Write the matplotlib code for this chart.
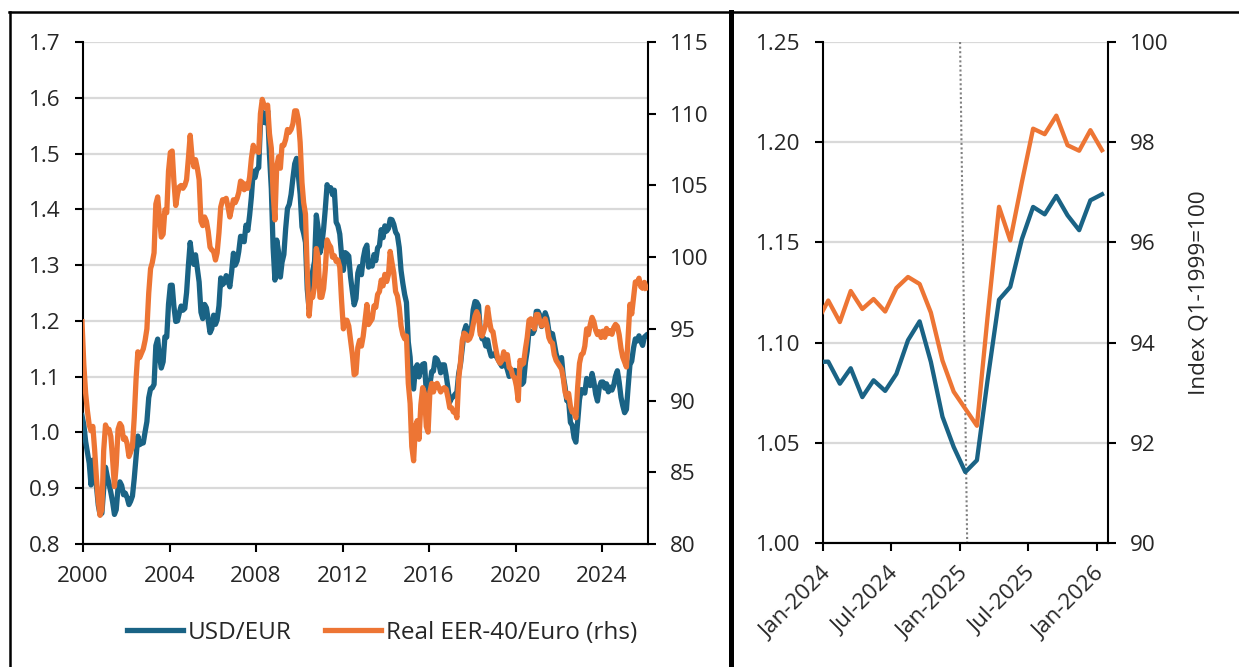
import matplotlib
matplotlib.use("Agg")
import matplotlib.pyplot as plt
import matplotlib.dates as mdates
import matplotlib.ticker as mticker
import matplotlib.transforms as mtransforms
from matplotlib.lines import Line2D
import pandas as pd

plt.rcParams['font.family'] = ['Open Sans', 'DejaVu Sans']

# ---------------- data (monthly averages, Dec-1999 .. Jan-2026) ----------------
first_month = "1999-12"

usd_eur = [
    1.030,
    1.0137, 0.9834, 0.9643, 0.9449, 0.9059, 0.9505, 0.9386, 0.9045, 0.8695, 0.8525, 0.8552, 0.8983,  # 2000
    0.9376, 0.9205, 0.9083, 0.8925, 0.8753, 0.8530, 0.8615, 0.9014, 0.9114, 0.9050, 0.8883, 0.8912,  # 2001
    0.8832, 0.8707, 0.8766, 0.8860, 0.9170, 0.9561, 0.9935, 0.9781, 0.9806, 0.9812, 1.0013, 1.0194,  # 2002
    1.0622, 1.0785, 1.0797, 1.0862, 1.1556, 1.1674, 1.1365, 1.1155, 1.1267, 1.1714, 1.1710, 1.2298,  # 2003
    1.2638, 1.2640, 1.2261, 1.1989, 1.2000, 1.2146, 1.2266, 1.2191, 1.2224, 1.2507, 1.2997, 1.3406,  # 2004
    1.3123, 1.3013, 1.3185, 1.2943, 1.2697, 1.2155, 1.2041, 1.2295, 1.2234, 1.2022, 1.1789, 1.1861,  # 2005
    1.2103, 1.1938, 1.2020, 1.2271, 1.2770, 1.2650, 1.2684, 1.2811, 1.2727, 1.2611, 1.2881, 1.3213,  # 2006
    1.2999, 1.3074, 1.3242, 1.3516, 1.3511, 1.3419, 1.3716, 1.3622, 1.3896, 1.4227, 1.4684, 1.4570,  # 2007
    1.4718, 1.4748, 1.5527, 1.5751, 1.5557, 1.5553, 1.5770, 1.4975, 1.4370, 1.3322, 1.2732, 1.3449,  # 2008
    1.3239, 1.2785, 1.3050, 1.3190, 1.3650, 1.4016, 1.4088, 1.4268, 1.4562, 1.4816, 1.4914, 1.4614,  # 2009
    1.4272, 1.3686, 1.3569, 1.3406, 1.2565, 1.2209, 1.2770, 1.2894, 1.3067, 1.3898, 1.3661, 1.3220,  # 2010
    1.3360, 1.3649, 1.3999, 1.4442, 1.4349, 1.4388, 1.4264, 1.4343, 1.3770, 1.3706, 1.3556, 1.3179,  # 2011
    1.2905, 1.3224, 1.3201, 1.3162, 1.2789, 1.2526, 1.2288, 1.2400, 1.2856, 1.2974, 1.2828, 1.3119,  # 2012
    1.3288, 1.3359, 1.2964, 1.3026, 1.2982, 1.3189, 1.3080, 1.3310, 1.3348, 1.3635, 1.3493, 1.3704,  # 2013
    1.3610, 1.3659, 1.3823, 1.3813, 1.3732, 1.3592, 1.3539, 1.3316, 1.2901, 1.2673, 1.2472, 1.2331,  # 2014
    1.1621, 1.1350, 1.0838, 1.0779, 1.1150, 1.1213, 1.0996, 1.1139, 1.1221, 1.1235, 1.0736, 1.0877,  # 2015
    1.0860, 1.1093, 1.1100, 1.1339, 1.1311, 1.1229, 1.1069, 1.1212, 1.1212, 1.1026, 1.0799, 1.0543,  # 2016
    1.0614, 1.0643, 1.0685, 1.0723, 1.1058, 1.1229, 1.1511, 1.1807, 1.1915, 1.1756, 1.1738, 1.1836,  # 2017
    1.2200, 1.2348, 1.2336, 1.2276, 1.1812, 1.1678, 1.1686, 1.1549, 1.1659, 1.1484, 1.1367, 1.1384,  # 2018
    1.1416, 1.1351, 1.1302, 1.1238, 1.1185, 1.1293, 1.1218, 1.1126, 1.1004, 1.1053, 1.1051, 1.1113,  # 2019
    1.1100, 1.0905, 1.1063, 1.0862, 1.0902, 1.1255, 1.1463, 1.1828, 1.1792, 1.1775, 1.1838, 1.2170,  # 2020
    1.2171, 1.2098, 1.1899, 1.1979, 1.2146, 1.2047, 1.1822, 1.1772, 1.1770, 1.1601, 1.1414, 1.1304,  # 2021
    1.1314, 1.1342, 1.1019, 1.0819, 1.0570, 1.0566, 1.0179, 1.0128, 0.9904, 0.9826, 1.0201, 1.0589,  # 2022
    1.0769, 1.0715, 1.0706, 1.0968, 1.0868, 1.0840, 1.1058, 1.0909, 1.0684, 1.0563, 1.0808, 1.0903,  # 2023
    1.0905, 1.0795, 1.0872, 1.0728, 1.0812, 1.0759, 1.0844, 1.1012, 1.1106, 1.0904, 1.0630, 1.0479,  # 2024
    1.0354, 1.0413, 1.0807, 1.1214, 1.1278, 1.1516, 1.1677, 1.1640, 1.1732, 1.1635, 1.1561, 1.1710,  # 2025
    1.1740,                                                                                          # 2026
]

real_eer40 = [
    95.5,
    92.5, 90.5, 89.3, 88.3, 87.9, 88.2, 86.6, 84.6, 83.0, 82.0, 82.4, 86.5,   # 2000
    88.3, 87.9, 88.0, 87.5, 85.9, 84.0, 85.5, 88.0, 88.4, 88.2, 87.3, 87.4,   # 2001
    87.0, 86.1, 86.4, 86.8, 88.8, 91.5, 93.4, 93.0, 93.3, 93.6, 94.2, 95.0,   # 2002
    97.5, 99.2, 99.6, 100.3, 103.7, 104.2, 102.8, 101.4, 101.6, 103.3, 103.1, 106.0,  # 2003
    107.3, 107.4, 105.3, 103.6, 104.4, 104.9, 105.0, 104.8, 105.0, 105.4, 106.9, 108.5,  # 2004
    107.0, 106.3, 106.8, 106.2, 105.4, 102.5, 102.2, 102.8, 102.5, 101.8, 100.7, 100.5,  # 2005
    100.4, 99.8, 100.3, 101.7, 103.5, 104.0, 104.0, 104.1, 103.5, 102.8, 103.4, 104.0,   # 2006
    103.8, 104.1, 104.5, 105.3, 105.2, 104.7, 105.1, 104.8, 105.6, 106.9, 107.8, 107.4,  # 2007
    107.5, 107.3, 110.0, 111.0, 110.6, 110.4, 110.6, 108.6, 107.6, 104.5, 102.6, 106.3,  # 2008
    107.0, 106.2, 107.8, 107.8, 108.2, 108.9, 108.7, 108.9, 109.3, 110.2, 110.2, 109.6,  # 2009
    108.0, 105.2, 103.8, 103.0, 99.0, 95.9, 97.3, 97.2, 98.0, 100.6, 100.0, 97.2,        # 2010
    97.2, 97.8, 99.1, 101.2, 100.9, 100.7, 100.0, 100.1, 99.7, 99.8, 99.3, 97.0,         # 2011
    95.0, 95.6, 95.6, 95.2, 94.2, 93.2, 91.8, 91.9, 93.7, 94.2, 93.8, 94.5,   # 2012
    95.6, 96.7, 95.3, 95.5, 95.7, 96.6, 96.5, 97.4, 97.6, 98.4, 98.0, 98.8,   # 2013
    98.3, 98.8, 100.4, 99.6, 98.9, 97.6, 97.3, 96.5, 95.2, 94.6, 94.3, 94.5,  # 2014
    91.2, 89.8, 86.8, 85.8, 88.2, 88.6, 87.3, 89.7, 90.9, 90.5, 88.2, 87.8,   # 2015
    90.6, 91.2, 90.6, 91.1, 91.2, 90.9, 90.6, 90.8, 90.9, 90.8, 90.2, 89.5,   # 2016
    89.5, 89.2, 89.3, 88.8, 91.5, 92.7, 94.2, 94.7, 94.6, 94.2, 94.3, 94.6,   # 2017
    95.3, 95.9, 96.2, 95.9, 94.6, 94.5, 94.9, 95.3, 96.5, 95.6, 94.9, 94.8,   # 2018
    94.0, 93.3, 92.8, 92.6, 92.8, 93.4, 92.9, 93.2, 92.3, 92.2, 91.7, 91.6,   # 2019
    91.0, 90.0, 92.8, 92.5, 92.6, 93.6, 94.4, 95.6, 95.7, 95.3, 95.0, 96.0,   # 2020
    96.0, 95.5, 95.2, 95.3, 95.7, 95.2, 94.4, 94.1, 94.0, 93.2, 92.8, 92.6,   # 2021
    92.4, 92.2, 91.6, 90.6, 90.2, 90.5, 89.6, 89.2, 89.2, 88.8, 91.0, 92.6,   # 2022
    93.2, 93.3, 93.8, 95.0, 94.6, 95.3, 95.8, 95.5, 94.9, 94.6, 94.8, 94.4,   # 2023
    94.84, 94.41, 95.03, 94.67, 94.87, 94.62, 95.09, 95.31, 95.17, 94.60, 93.64, 93.02,  # 2024
    92.68, 92.34, 94.48, 96.71, 96.04, 97.20, 98.27, 98.16, 98.53, 97.94, 97.83, 98.24,  # 2025
    97.84,                                                                                # 2026
]

series_labels = ["USD/EUR", "Real EER-40/Euro (rhs)"]
left_range = ("2000-01-01", "2026-02-14")
zoom_range = ("2024-01-01", "2026-01-31")
event_line = ("2025-01-01", "2025-01-20")   # dotted marker (top, bottom)
rhs_label = "Index Q1-1999=100"

# ---------------- styling ----------------
BLUE = "#1a6385"
ORANGE = "#ed7534"
TXT = "#262626"
GRID = "#d9d9d9"
FS = 16.2
FS_LEG = 17.5

dates = pd.date_range(first_month + "-01", periods=len(usd_eur), freq="MS") + pd.Timedelta(days=14)

W, H = 1239, 667
fig = plt.figure(figsize=(W / 100, H / 100), dpi=100)


def box(x0, y0, x1, y1):
    return [x0 / W, 1 - y1 / H, (x1 - x0) / W, (y1 - y0) / H]


def style(ax, axr, lw_spine=1.5):
    for a in (ax, axr):
        a.spines["top"].set_visible(False)
        for s in ("left", "right", "bottom"):
            a.spines[s].set_linewidth(lw_spine)
            a.spines[s].set_color("black")
        a.tick_params(axis="both", which="major", direction="out", length=6, width=1.5,
                      colors="black", labelcolor=TXT, labelsize=FS, pad=10)
    ax.yaxis.grid(True, color=GRID, lw=1.6)
    ax.set_axisbelow(True)
    axr.spines["left"].set_visible(False)
    ax.spines["right"].set_visible(False)


# ---------------- left panel ----------------
ax1 = fig.add_axes(box(83, 42, 648, 544))
ax1r = ax1.twinx()
style(ax1, ax1r)
l1, = ax1.plot(dates, usd_eur, color=BLUE, lw=3.8, solid_joinstyle="round", zorder=3)
l2, = ax1r.plot(dates, real_eer40, color=ORANGE, lw=3.8, solid_joinstyle="round", zorder=3)
ax1.set_xlim(pd.Timestamp(left_range[0]), pd.Timestamp(left_range[1]))
ax1.set_ylim(0.8, 1.7)
ax1r.set_ylim(80, 115)
ax1.yaxis.set_major_locator(mticker.MultipleLocator(0.1))
ax1.yaxis.set_major_formatter(mticker.FormatStrFormatter("%.1f"))
ax1r.yaxis.set_major_locator(mticker.MultipleLocator(5))
ax1.xaxis.set_major_locator(mdates.YearLocator(4))
ax1.xaxis.set_major_formatter(mdates.DateFormatter("%Y"))

# ---------------- right panel ----------------
ax2 = fig.add_axes(box(823, 42, 1108, 543))
ax2r = ax2.twinx()
style(ax2, ax2r)
ax2.plot(dates, usd_eur, color=BLUE, lw=3.1, solid_joinstyle="round", zorder=3)
ax2r.plot(dates, real_eer40, color=ORANGE, lw=3.1, solid_joinstyle="round", zorder=3)
ax2.plot([pd.Timestamp(event_line[0]), pd.Timestamp(event_line[1])], [1.25, 1.0],
         color="#808080", lw=1.5, ls=(0, (1, 1.2)), zorder=2)
ax2.set_xlim(pd.Timestamp(zoom_range[0]), pd.Timestamp(zoom_range[1]))
ax2.set_ylim(1.0, 1.25)
ax2r.set_ylim(90, 100)
ax2.yaxis.set_major_locator(mticker.MultipleLocator(0.05))
ax2.yaxis.set_major_formatter(mticker.FormatStrFormatter("%.2f"))
ax2r.yaxis.set_major_locator(mticker.MultipleLocator(2))
ax2.xaxis.set_major_locator(mdates.MonthLocator(bymonth=[1, 7]))
ax2.xaxis.set_major_formatter(mdates.DateFormatter("%b-%Y"))
ax2.tick_params(axis="x", pad=11)
shift = mtransforms.ScaledTranslation(5 / 100, -4 / 100, fig.dpi_scale_trans)
for lab in ax2.get_xticklabels():
    lab.set_rotation(45)
    lab.set_ha("right")
    lab.set_va("center")
    lab.set_rotation_mode("anchor")
    lab.set_transform(lab.get_transform() + shift)
ax2r.set_ylabel(rhs_label, fontsize=FS, color=TXT, labelpad=14)

# ---------------- legend ----------------
fig.legend([l1, l2], series_labels, loc="center", bbox_to_anchor=(382 / W, 1 - 633 / H),
           ncol=2, frameon=False, fontsize=FS_LEG, handlelength=2.3, handletextpad=0.2,
           columnspacing=1.4, labelcolor=TXT)

# ---------------- panel frames ----------------
frame_kw = dict(color="black", transform=fig.transFigure, clip_on=False)
fig.add_artist(Line2D([10 / W, 10 / W], [0, 1 - 12 / H], lw=1.8, **frame_kw))
fig.add_artist(Line2D([9 / W, 1], [1 - 12 / H, 1 - 12 / H], lw=1.8, **frame_kw))
fig.add_artist(Line2D([730.5 / W, 730.5 / W], [0, 1 - 12 / H], lw=3.6, **frame_kw))

fig.savefig("out.png", dpi=100)
